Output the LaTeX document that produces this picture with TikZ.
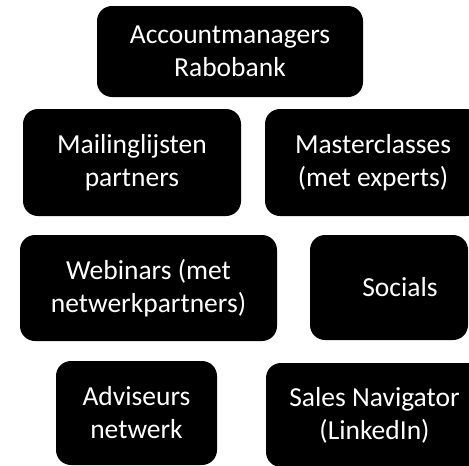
\documentclass[tikz,border=0pt]{standalone}
\usepackage{fontspec}
\setmainfont{Carlito}
\begin{document}
\begin{tikzpicture}[x=1pt,y=-1pt,
  card/.style={fill=black, text=white, rounded corners=15pt, inner sep=0pt,
    align=center, font=\fontsize{27.5}{33}\selectfont}]
\useasboundingbox (0,0) rectangle (469,466);
\clip (0,0) rectangle (469,466);
\node[card, minimum width=266pt, minimum height=91pt] (acc) at (230,51.5) {Accountmanagers\\Rabobank};
\node[card, minimum width=218pt, minimum height=107pt] (mail) at (132,162.5) {Mailinglijsten\\partners};
\node[card, minimum width=216pt, minimum height=107pt] (master) at (373,162.5) {Masterclasses\\(met experts)};
\node[card, minimum width=257pt, minimum height=106pt] (web) at (148.5,288) {Webinars (met\\netwerkpartners)};
\node[card, minimum width=158pt, minimum height=105pt] (soc) at (389,287.5) {\hspace*{22pt}Socials};
\node[card, minimum width=161pt, minimum height=104pt] (adv) at (136.5,413) {Adviseurs\\netwerk};
\node[card, minimum width=217pt, minimum height=104pt] (sales) at (374.5,415) {Sales Navigator\\(LinkedIn)};
\end{tikzpicture}
\end{document}
